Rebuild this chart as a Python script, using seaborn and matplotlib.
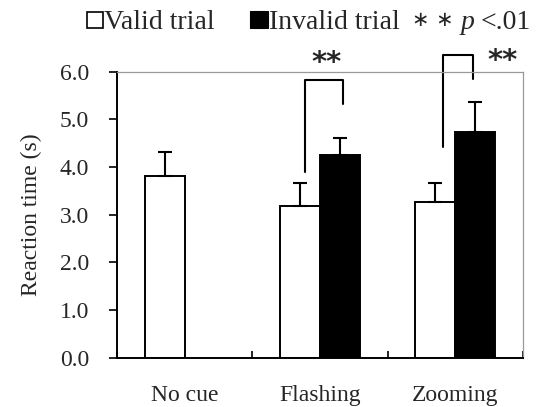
import numpy as np
import pandas as pd
import seaborn as sns
import matplotlib.pyplot as plt
from matplotlib.patches import Rectangle
from matplotlib.ticker import FixedLocator

# data
conditions = ["No cue", "Flashing", "Zooming"]
valid_mean = [3.82, 3.19, 3.26]
valid_err = [0.49, 0.48, 0.41]
invalid_mean = [np.nan, 4.25, 4.74]
invalid_err = [np.nan, 0.36, 0.62]
trial_types = ["Valid trial", "Invalid trial"]

# significance brackets (x in category units, y in seconds)
bracket_x = [(0.89, 1.17), (1.91, 2.13)]
bracket_top = [5.82, 6.35]
bracket_ends = [(3.89, 5.32), (4.42, 5.84)]
star_xy = [(1.05, 6.18), (2.35, 6.22)]

sns.set_style("white")
plt.rcParams["font.family"] = ["Liberation Serif", "DejaVu Sans"]

df = pd.DataFrame({
    "Condition": conditions * 2,
    "Trial": [trial_types[0]] * 3 + [trial_types[1]] * 3,
    "RT": valid_mean + invalid_mean,
    "SE": valid_err + invalid_err,
}).dropna()

W, H = 539, 407
fig = plt.figure(figsize=(W / 100, H / 100), dpi=100)
ax = fig.add_axes([0.217, 0.121, 0.753, 0.703])

sns.barplot(data=df, x="Condition", y="RT", hue="Trial", order=conditions,
            hue_order=trial_types, palette=["white", "black"], width=0.59,
            gap=0, errorbar=None, edgecolor="black", linewidth=1.4,
            legend=False, ax=ax)

# one-sided error bars on top of each bar
for cont, trial in zip(ax.containers, trial_types):
    sub = df[df["Trial"] == trial]
    xs = [b.get_x() + b.get_width() / 2 for b in cont]
    ys = [b.get_height() for b in cont]
    errs = sub["SE"].to_numpy()
    ax.errorbar(xs, ys, yerr=[np.zeros(len(errs)), errs], fmt="none",
                ecolor="black", elinewidth=1.5, capsize=5, capthick=1.5)

for (x0, x1), top, (e0, e1), (sx, sy) in zip(bracket_x, bracket_top, bracket_ends, star_xy):
    ax.plot([x0, x0, x1, x1], [e0, top, top, e1], color="black", lw=1.5,
            clip_on=False)
    ax.text(sx, sy, "**", ha="center", va="center", fontsize=21,
            family="DejaVu Sans", fontweight="bold", clip_on=False)

ax.set_xlim(-0.5, 2.5)
ax.set_ylim(0, 6)
ax.set_yticks(np.arange(0, 6.1, 1.0))
ax.set_yticklabels([f"{v:.1f}" for v in np.arange(0, 6.1, 1.0)], fontsize=17)
ax.set_xticks(range(3))
ax.set_xticklabels(conditions, fontsize=17)
ax.xaxis.set_minor_locator(FixedLocator([-0.5, 0.5, 1.5, 2.5]))
ax.tick_params(axis="x", which="major", length=0, pad=19.5)
ax.tick_params(axis="x", which="minor", direction="in", length=5, width=1.2,
               color="black", bottom=True)
ax.tick_params(axis="y", direction="out", length=6, width=1.2, color="black",
               left=True, pad=14)
ax.set_xlabel("")
ax.set_ylabel("Reaction time (s)", fontsize=17, labelpad=13)

for side in ["left", "bottom"]:
    ax.spines[side].set_color("black")
    ax.spines[side].set_linewidth(1.4)
for side in ["top", "right"]:
    ax.spines[side].set_color("#999999")
    ax.spines[side].set_linewidth(0.9)

# legend line above the plot (pixel positions)
base = 1 - 29 / H
fig.add_artist(Rectangle((87 / W, 1 - 28 / H), 16 / W, 16 / H,
                         transform=fig.transFigure, facecolor="white",
                         edgecolor="black", linewidth=1.2))
fig.add_artist(Rectangle((250 / W, 1 - 28 / H), 18 / W, 17 / H,
                         transform=fig.transFigure, facecolor="black",
                         edgecolor="black", linewidth=0.8))
fig.text(104 / W, base, trial_types[0], fontsize=20, va="baseline")
fig.text(269 / W, base, trial_types[1], fontsize=20, va="baseline")
fig.text(412 / W, base + 0.008, "\u2217 \u2217", fontsize=15,
         family="DejaVu Sans", va="baseline")
fig.text(461 / W, base, "p", fontsize=20, style="italic", va="baseline")
fig.text(481 / W, base, "<.01", fontsize=20, va="baseline")

fig.savefig("out.png", dpi=100)
